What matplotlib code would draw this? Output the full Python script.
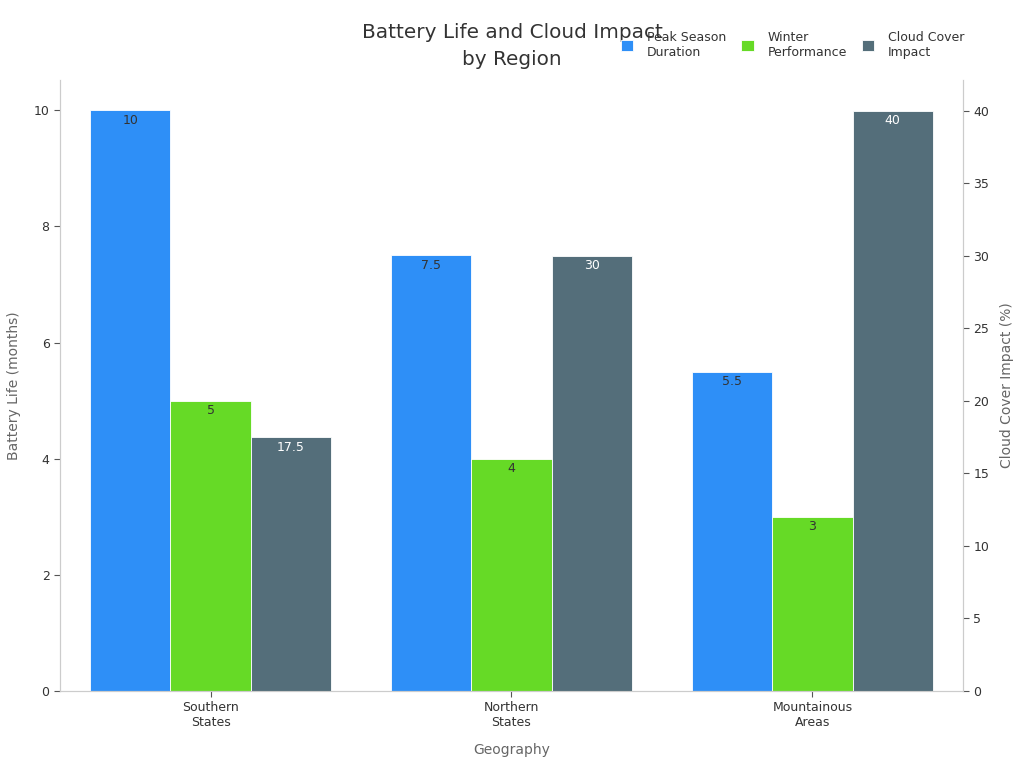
import matplotlib
matplotlib.use("Agg")
import matplotlib.pyplot as plt
import numpy as np

categories = ["Southern\nStates", "Northern\nStates", "Mountainous\nAreas"]
peak_season = [10, 7.5, 5.5]
winter_perf = [5, 4, 3]
cloud_impact = [17.5, 30, 40]
series_names = ["Peak Season\nDuration", "Winter\nPerformance", "Cloud Cover\nImpact"]
colors = ["#2E8FF7", "#66DA26", "#546E7A"]

fig = plt.figure(figsize=(10.24, 7.68), dpi=100)
ax = fig.add_axes([0.0586, 0.1003, 0.8818, 0.7955])
ax2 = ax.twinx()

x = np.arange(len(categories))
w = 0.8 / 3
b1 = ax.bar(x - w, peak_season, w, color=colors[0], edgecolor="white", linewidth=0.6, label=series_names[0])
b2 = ax.bar(x, winter_perf, w, color=colors[1], edgecolor="white", linewidth=0.6, label=series_names[1])
b3 = ax2.bar(x + w, cloud_impact, w, color=colors[2], edgecolor="white", linewidth=0.6, label=series_names[2])

fmt = lambda v: f"{v:g}"
ax.bar_label(b1, labels=[fmt(v) for v in peak_season], padding=-12, color="#333333", fontsize=9)
ax.bar_label(b2, labels=[fmt(v) for v in winter_perf], padding=-12, color="#333333", fontsize=9)
ax2.bar_label(b3, labels=[fmt(v) for v in cloud_impact], padding=-12, color="white", fontsize=9)

ax.set_xlim(-0.5, 2.5)
ax.set_ylim(0, 10.52)
ax2.set_ylim(0, 42.1)
ax.set_yticks([0, 2, 4, 6, 8, 10])
ax2.set_yticks([0, 5, 10, 15, 20, 25, 30, 35, 40])
ax.set_xticks(x)
ax.set_xticklabels(categories, fontsize=9, color="#333333")

for a in (ax, ax2):
    a.spines["top"].set_visible(False)
    for s in ("left", "right", "bottom"):
        a.spines[s].set_color("#CCCCCC")
    a.tick_params(colors="#333333", labelsize=9, length=4)
    a.tick_params(axis="both", which="both", color="#555555")

ax.set_ylabel("Battery Life (months)", fontsize=10, color="#666666", labelpad=9)
ax2.set_ylabel("Cloud Cover Impact (%)", fontsize=10, color="#666666", labelpad=8)
ax.set_xlabel("Geography", fontsize=10, color="#666666", labelpad=10)

fig.text(0.5, 0.940, "Battery Life and Cloud Impact\nby Region", ha="center", va="center",
         fontsize=14.4, color="#333333", linespacing=1.5)

handles = [b1, b2, b3]
leg = fig.legend(handles, series_names, loc="center left", bbox_to_anchor=(0.595, 0.942),
                 ncol=3, frameon=False, fontsize=9, handlelength=1.0, handleheight=1.0,
                 columnspacing=1.2, handletextpad=1.1)
for t in leg.get_texts():
    t.set_color("#333333")

fig.savefig("out.png", dpi=100)
